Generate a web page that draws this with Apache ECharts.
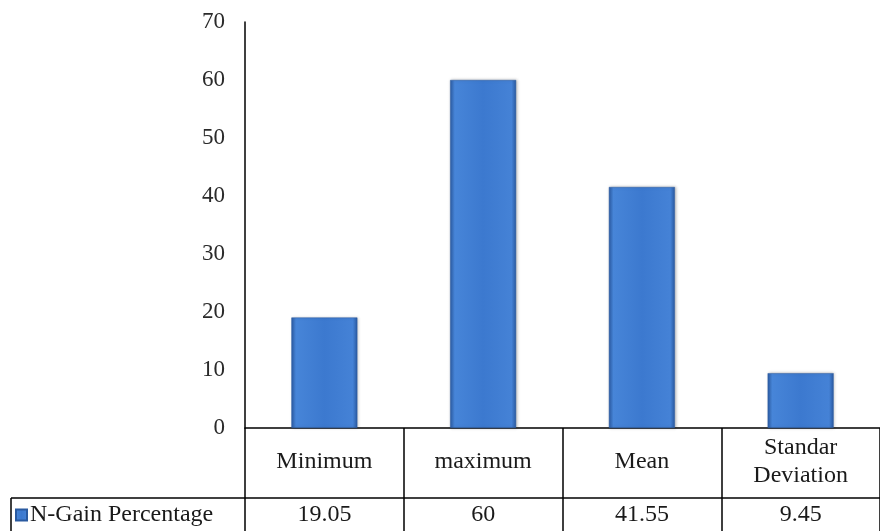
<!DOCTYPE html>
<html>
<head>
<meta charset="utf-8">
<script src="https://cdn.jsdelivr.net/npm/echarts@6/dist/echarts.min.js"></script>
<style>
  html, body { margin: 0; padding: 0; background: #fff; }
  #chart { width: 880px; height: 531px; }
</style>
</head>
<body>
<div id="chart"></div>
<script>
// Descriptive statistics of N-Gain percentage
const categories = ['Minimum', 'maximum', 'Mean', 'Standar\nDeviation'];
const values = [19.05, 60, 41.55, 9.45];
const valueLabels = ['19.05', '60', '41.55', '9.45'];
const seriesName = 'N-Gain Percentage';
const yTicks = { min: 0, max: 70, interval: 10 };

const serif = '"Liberation Serif", "Times New Roman", serif';
const ink = '#000';
const textInk = '#1a1a1a';
const axisFont = 23;
const tableFont = 24;

const chart = echarts.init(document.getElementById('chart'));

const barFill = new echarts.graphic.LinearGradient(0, 0, 1, 0, [
  { offset: 0, color: '#2c5da6' },
  { offset: 0.07, color: '#4785d8' },
  { offset: 0.5, color: '#3c79cf' },
  { offset: 0.93, color: '#4582d6' },
  { offset: 1, color: '#2a5aa2' }
]);

chart.setOption({
  animation: false,
  backgroundColor: '#fff',
  grid: { left: 245, top: 22, width: 648, height: 406, containLabel: false },
  legend: {
    left: 15,
    top: 503,
    itemWidth: 11,
    itemHeight: 11,
    itemGap: 0,
    icon: 'rect',
    padding: 0,
    textStyle: { fontFamily: serif, fontSize: tableFont, color: textInk, padding: [0, 0, 0, -2] },
    data: [seriesName]
  },
  xAxis: [
    {
      type: 'category',
      data: categories,
      boundaryGap: true,
      axisLine: { show: true, lineStyle: { color: ink, width: 1.5 } },
      axisTick: { show: true, interval: 0, length: 104, lineStyle: { color: ink, width: 1.5 } },
      axisLabel: {
        interval: 0,
        margin: 34,
        verticalAlign: 'middle',
        fontFamily: serif,
        fontSize: tableFont,
        lineHeight: 28,
        color: textInk
      },
      splitLine: { show: false }
    },
    {
      type: 'category',
      data: valueLabels,
      position: 'bottom',
      axisLine: { show: false },
      axisTick: { show: false },
      axisLabel: {
        interval: 0,
        margin: 87,
        verticalAlign: 'middle',
        fontFamily: serif,
        fontSize: tableFont,
        color: textInk
      }
    }
  ],
  yAxis: {
    type: 'value',
    min: yTicks.min,
    max: yTicks.max,
    interval: yTicks.interval,
    axisLine: { show: true, lineStyle: { color: ink, width: 1.5 } },
    axisTick: { show: false },
    splitLine: { show: false },
    axisLabel: { margin: 20, fontFamily: serif, fontSize: axisFont, color: '#2a2a2a' }
  },
  series: [
    {
      name: seriesName,
      type: 'bar',
      data: values,
      barWidth: 66,
      itemStyle: {
        color: barFill,
        borderColor: '#2a5aa0',
        borderWidth: 0.5,
        shadowColor: 'rgba(0,0,0,0.25)',
        shadowBlur: 3,
        shadowOffsetX: 1,
        shadowOffsetY: 0
      }
    }
  ],
  graphic: [
    // table row divider and left border of the data row
    { type: 'line', shape: { x1: 11, y1: 498, x2: 880, y2: 498 }, style: { stroke: ink, lineWidth: 1.5 }, silent: true },
    { type: 'line', shape: { x1: 11, y1: 498, x2: 11, y2: 531 }, style: { stroke: ink, lineWidth: 1.5 }, silent: true }
  ]
});
</script>
</body>
</html>
